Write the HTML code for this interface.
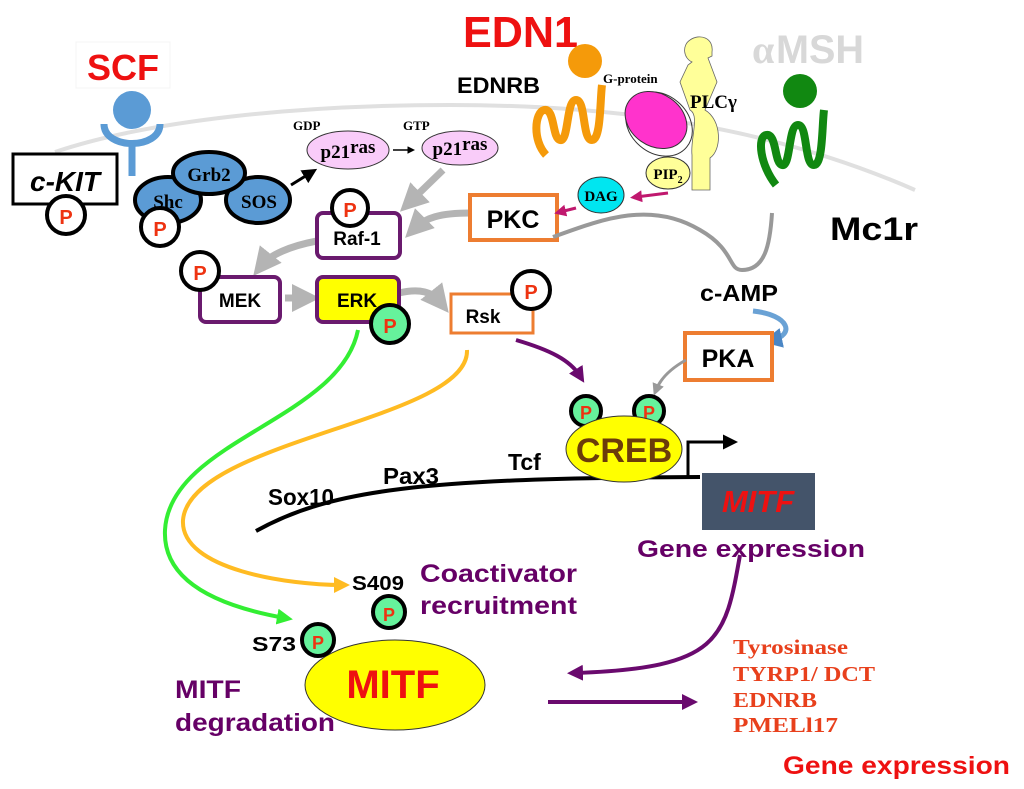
<!DOCTYPE html>
<html><head><meta charset="utf-8"><style>
html,body{margin:0;padding:0;background:#fff;}
svg{display:block;}
text{font-family:"Liberation Sans",sans-serif;font-weight:bold;}
.sr{font-family:"Liberation Serif",serif;}
</style></head><body>
<svg width="1024" height="789" viewBox="0 0 1024 789" xmlns="http://www.w3.org/2000/svg">
<defs>
<marker id="ag" markerWidth="4" markerHeight="4" refX="2" refY="2" orient="auto"><path d="M0,0L4,2L0,4z" fill="#b4b4b4"/></marker>
<marker id="ab" markerWidth="5" markerHeight="5" refX="3" refY="2.5" orient="auto"><path d="M0,0L5,2.5L0,5z" fill="#000"/></marker>
<marker id="ap" markerWidth="4" markerHeight="4" refX="2" refY="2" orient="auto"><path d="M0,0L4,2L0,4z" fill="#6a0a6e"/></marker>
<marker id="am" markerWidth="4" markerHeight="4" refX="2" refY="2" orient="auto"><path d="M0,0L4,2L0,4z" fill="#c0186e"/></marker>
<marker id="agr" markerWidth="4" markerHeight="4" refX="2" refY="2" orient="auto"><path d="M0,0L4,2L0,4z" fill="#33ee33"/></marker>
<marker id="ay" markerWidth="4" markerHeight="4" refX="2" refY="2" orient="auto"><path d="M0,0L4,2L0,4z" fill="#ffbb22"/></marker>
<marker id="agy" markerWidth="4" markerHeight="4" refX="2" refY="2" orient="auto"><path d="M0,0L4,2L0,4z" fill="#999"/></marker>
<marker id="abl" markerWidth="4" markerHeight="4" refX="2" refY="2" orient="auto"><path d="M0,0L4,2L0,4z" fill="#4a86c5"/></marker>
</defs>
<path d="M55,152 C150,120 300,105 450,105 C600,105 760,122 915,190" fill="none" stroke="#e0e0e0" stroke-width="4"/>
<rect x="76" y="42" width="94" height="46" fill="none" stroke="#f4f4f4"/>
<text x="123" y="80" font-size="36" fill="#ee1111" text-anchor="middle">SCF</text>
<circle cx="132" cy="110" r="19" fill="#5b9bd5"/>
<path d="M104,124 C104,150 160,150 160,124" fill="none" stroke="#5b9bd5" stroke-width="7"/>
<line x1="132" y1="146" x2="132" y2="176" stroke="#5b9bd5" stroke-width="7"/>
<rect x="13" y="154" width="104" height="50" fill="#fff" stroke="#000" stroke-width="3"/>
<text x="65" y="191" font-size="28" font-style="italic" text-anchor="middle">c-KIT</text>
<circle cx="66" cy="215" r="19" fill="#fff" stroke="#000" stroke-width="4"/>
<text x="66" y="224" font-size="20" fill="#ee3311" text-anchor="middle">P</text>
<g fill="#5b9bd5" stroke="#000" stroke-width="4">
<ellipse cx="168" cy="200" rx="33" ry="23"/>
<ellipse cx="258" cy="200" rx="32" ry="23"/>
<ellipse cx="209" cy="173" rx="36" ry="21"/>
</g>
<text x="168" y="208" class="sr" font-size="19" text-anchor="middle">Shc</text>
<text x="209" y="181" class="sr" font-size="19" text-anchor="middle">Grb2</text>
<text x="259" y="208" class="sr" font-size="19" text-anchor="middle">SOS</text>
<circle cx="160" cy="227" r="19" fill="#fff" stroke="#000" stroke-width="4"/>
<text x="160" y="236" font-size="20" fill="#ee3311" text-anchor="middle">P</text>
<line x1="291" y1="185" x2="312" y2="172" stroke="#000" stroke-width="3" marker-end="url(#ab)"/>
<ellipse cx="348" cy="150" rx="41" ry="19" fill="#f9ccf9" stroke="#333"/>
<ellipse cx="460" cy="148" rx="38" ry="17" fill="#f9ccf9" stroke="#333"/>
<text x="293" y="130" class="sr" font-size="13" font-weight="normal">GDP</text>
<text x="403" y="130" class="sr" font-size="13" font-weight="normal">GTP</text>
<text x="348" y="158" class="sr" font-size="19" text-anchor="middle">p21<tspan dy="-5">ras</tspan></text>
<text x="460" y="155" class="sr" font-size="19" text-anchor="middle">p21<tspan dy="-5">ras</tspan></text>
<line x1="393" y1="150" x2="412" y2="150" stroke="#000" stroke-width="1.5" marker-end="url(#ab)"/>
<g fill="none" stroke="#b4b4b4" stroke-width="7">
<line x1="443" y1="170" x2="410" y2="202" marker-end="url(#ag)"/>
<path d="M470,213 C440,213 425,218 415,228" marker-end="url(#ag)"/>
<path d="M317,241 C290,246 270,255 262,265" marker-end="url(#ag)"/>
<line x1="285" y1="298" x2="306" y2="298" marker-end="url(#ag)"/>
<path d="M399,293 C420,288 432,292 440,302" marker-end="url(#ag)"/>
</g>
<rect x="317" y="213" width="83" height="45" rx="6" fill="#fff" stroke="#6a1a6e" stroke-width="4"/>
<text x="357" y="245" font-size="19" font-weight="normal" text-anchor="middle">Raf-1</text>
<circle cx="350" cy="208" r="18" fill="#fff" stroke="#000" stroke-width="4"/>
<text x="350" y="217" font-size="20" fill="#ee3311" text-anchor="middle">P</text>
<rect x="200" y="277" width="80" height="45" rx="6" fill="#fff" stroke="#6a1a6e" stroke-width="4"/>
<text x="240" y="307" font-size="19" font-weight="normal" text-anchor="middle">MEK</text>
<circle cx="200" cy="271" r="19" fill="#fff" stroke="#000" stroke-width="4"/>
<text x="200" y="280" font-size="20" fill="#ee3311" text-anchor="middle">P</text>
<rect x="317" y="277" width="82" height="45" rx="6" fill="#ffff00" stroke="#6a1a6e" stroke-width="4"/>
<text x="357" y="307" font-size="19" font-weight="normal" text-anchor="middle">ERK</text>
<circle cx="390" cy="324" r="19" fill="#66f29c" stroke="#000" stroke-width="4"/>
<text x="390" y="333" font-size="20" fill="#ee3311" text-anchor="middle">P</text>
<rect x="451" y="294" width="82" height="39" fill="#fff" stroke="#ed7d31" stroke-width="3"/>
<text x="483" y="323" font-size="19" text-anchor="middle">Rsk</text>
<circle cx="531" cy="290" r="19" fill="#fff" stroke="#000" stroke-width="4"/>
<text x="531" y="299" font-size="20" fill="#ee3311" text-anchor="middle">P</text>
<rect x="470" y="195" width="87" height="45" fill="#fff" stroke="#ed7d31" stroke-width="4"/>
<text x="513" y="228" font-size="25" text-anchor="middle">PKC</text>
<text x="463" y="47" font-size="44" fill="#ee1111" textLength="115" lengthAdjust="spacingAndGlyphs">EDN1</text>
<text x="457" y="93" font-size="22" textLength="83" lengthAdjust="spacingAndGlyphs">EDNRB</text>
<circle cx="585" cy="61" r="17" fill="#f59a0a"/>
<path d="M546,155 C532,140 535,112 544,110 C555,108 552,138 560,140 C569,142 566,100 576,100 C586,100 582,140 592,140 C601,140 600,100 602,85" fill="none" stroke="#f59a0a" stroke-width="8"/>
<text x="603" y="83" class="sr" font-size="13">G-protein</text>
<ellipse cx="659" cy="124" rx="29" ry="36" transform="rotate(-50 659 124)" fill="none" stroke="#333"/>
<ellipse cx="656" cy="120" rx="26" ry="33" transform="rotate(-55 656 120)" fill="#ff33cc" stroke="#333"/>
<path d="M690,40 C700,33 714,38 712,52 L712,56 L708,58 L717,82 L705,110 C722,120 722,150 710,158 L710,190 L692,190 L692,155 C690,140 700,115 690,110 L680,82 L688,65 L692,62 C683,58 682,45 690,40z" fill="#ffff99" stroke="#666" stroke-width="0.8"/>
<text x="690" y="108" class="sr" font-size="19">PLCγ</text>
<ellipse cx="668" cy="173" rx="22" ry="16" fill="#ffff99" stroke="#333"/>
<text x="668" y="179" class="sr" font-size="15" text-anchor="middle">PIP<tspan font-size="10" dy="4">2</tspan></text>
<ellipse cx="601" cy="195" rx="23" ry="18" fill="#00e6f0" stroke="#333"/>
<text x="601" y="201" class="sr" font-size="15" text-anchor="middle">DAG</text>
<g stroke="#c0186e" stroke-width="3">
<line x1="668" y1="193" x2="636" y2="197" marker-end="url(#am)"/>
<line x1="576" y1="208" x2="560" y2="212" marker-end="url(#am)"/>
</g>
<text x="752" y="63" font-size="40" fill="#d8d8d8" font-weight="normal" class="sr">α</text><text x="776" y="63" font-size="40" fill="#d8d8d8" textLength="88" lengthAdjust="spacingAndGlyphs">MSH</text>
<circle cx="800" cy="91" r="17" fill="#118811"/>
<path d="M776,185 C760,165 757,137 766,135 C777,133 774,163 782,165 C791,167 788,125 798,125 C808,125 804,165 814,165 C823,165 822,125 824,110" fill="none" stroke="#118811" stroke-width="8"/>
<text x="830" y="240" font-size="32" textLength="88" lengthAdjust="spacingAndGlyphs">Mc1r</text>
<path d="M553,237 C600,220 650,200 700,230 C735,250 728,270 742,270 C765,270 770,245 772,213" fill="none" stroke="#999" stroke-width="4"/>
<text x="700" y="301" font-size="23" textLength="78" lengthAdjust="spacingAndGlyphs">c-AMP</text>
<path d="M753,311 C790,315 795,335 772,340" fill="none" stroke="#6aa2d5" stroke-width="5" marker-end="url(#abl)"/>
<rect x="685" y="333" width="87" height="47" fill="#fff" stroke="#ed7d31" stroke-width="4"/>
<text x="728" y="367" font-size="25" text-anchor="middle">PKA</text>
<path d="M686,360 C668,370 660,380 656,390" fill="none" stroke="#999" stroke-width="3" marker-end="url(#agy)"/>
<path d="M516,340 C550,350 570,360 580,376" fill="none" stroke="#6a0a6e" stroke-width="4" marker-end="url(#ap)"/>
<path d="M256,531 C330,490 420,478 700,477" fill="none" stroke="#000" stroke-width="4"/>
<text x="268" y="505" font-size="23" textLength="66" lengthAdjust="spacingAndGlyphs">Sox10</text>
<text x="383" y="484" font-size="23" textLength="56" lengthAdjust="spacingAndGlyphs">Pax3</text>
<text x="508" y="470" font-size="23">Tcf</text>
<circle cx="586" cy="411" r="15" fill="#66f29c" stroke="#000" stroke-width="4"/>
<text x="586" y="419" font-size="18" fill="#ee3311" text-anchor="middle">P</text>
<circle cx="649" cy="411" r="15" fill="#66f29c" stroke="#000" stroke-width="4"/>
<text x="649" y="419" font-size="18" fill="#ee3311" text-anchor="middle">P</text>
<ellipse cx="624" cy="449" rx="58" ry="33" fill="#ffff00" stroke="#333"/>
<text x="624" y="462" font-size="34" fill="#6b3c0a" text-anchor="middle">CREB</text>
<polyline points="688,478 688,442 732,442" fill="none" stroke="#000" stroke-width="3" marker-end="url(#ab)"/>
<rect x="702" y="473" width="113" height="57" fill="#44546a"/>
<text x="758" y="512" font-size="31" font-style="italic" fill="#ee1111" text-anchor="middle">MITF</text>
<text x="637" y="557" font-size="24" fill="#660066" textLength="228" lengthAdjust="spacingAndGlyphs">Gene expression</text>
<path d="M358,330 C340,420 170,440 165,530 C162,590 240,610 285,618" fill="none" stroke="#33ee33" stroke-width="4" marker-end="url(#agr)"/>
<path d="M467,350 C470,420 190,440 183,520 C180,570 290,585 342,585" fill="none" stroke="#ffbb22" stroke-width="4" marker-end="url(#ay)"/>
<text x="352" y="590" font-size="20" textLength="52" lengthAdjust="spacingAndGlyphs">S409</text>
<text x="420" y="582" font-size="25" fill="#660066" textLength="157" lengthAdjust="spacingAndGlyphs">Coactivator</text>
<text x="420" y="614" font-size="25" fill="#660066" textLength="157" lengthAdjust="spacingAndGlyphs">recruitment</text>
<circle cx="389" cy="612" r="16" fill="#66f29c" stroke="#000" stroke-width="4"/>
<text x="389" y="621" font-size="18" fill="#ee3311" text-anchor="middle">P</text>
<ellipse cx="395" cy="685" rx="90" ry="45" fill="#ffff00" stroke="#333"/>
<text x="393" y="698" font-size="40" fill="#ee1111" text-anchor="middle">MITF</text>
<text x="252" y="651" font-size="20" textLength="44" lengthAdjust="spacingAndGlyphs">S73</text>
<circle cx="318" cy="640" r="16" fill="#66f29c" stroke="#000" stroke-width="4"/>
<text x="318" y="649" font-size="18" fill="#ee3311" text-anchor="middle">P</text>
<text x="175" y="698" font-size="25" fill="#660066" textLength="66" lengthAdjust="spacingAndGlyphs">MITF</text>
<text x="175" y="731" font-size="25" fill="#660066" textLength="160" lengthAdjust="spacingAndGlyphs">degradation</text>
<path d="M740,555 C725,640 720,668 575,673" fill="none" stroke="#6a0a6e" stroke-width="4" marker-end="url(#ap)"/>
<line x1="548" y1="702" x2="690" y2="702" stroke="#6a0a6e" stroke-width="4" marker-end="url(#ap)"/>
<g fill="#e8401c">
<text x="733" y="654" class="sr" font-weight="normal" font-size="21" textLength="115" lengthAdjust="spacingAndGlyphs">Tyrosinase</text>
<text x="733" y="681" class="sr" font-weight="normal" font-size="21" textLength="142" lengthAdjust="spacingAndGlyphs">TYRP1/ DCT</text>
<text x="733" y="707" class="sr" font-weight="normal" font-size="21" textLength="84" lengthAdjust="spacingAndGlyphs">EDNRB</text>
<text x="733" y="732" class="sr" font-weight="normal" font-size="21" textLength="105" lengthAdjust="spacingAndGlyphs">PMELl17</text>
</g>
<text x="783" y="774" font-size="25" fill="#ee1111" textLength="227" lengthAdjust="spacingAndGlyphs">Gene expression</text>
</svg>
</body></html>
